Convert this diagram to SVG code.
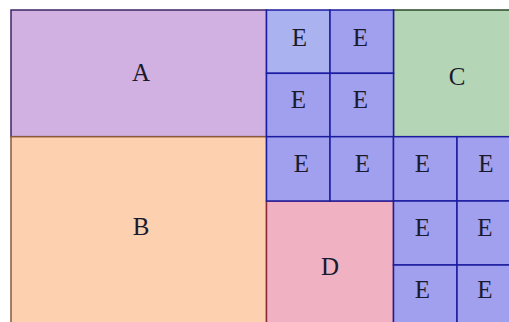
<svg xmlns="http://www.w3.org/2000/svg" width="509" height="322" viewBox="0 0 509 322">
<style>
rect{stroke-width:1.5}
text{font-family:"Liberation Serif","Times New Roman",serif;font-size:25px;fill:#1a1a2e;text-anchor:middle}
.a{fill:#d1b1e1;stroke:#3d2466}
.b{fill:#fdd0b0;stroke:#8a5a3a}
.c{fill:#b4d6b6;stroke:#2a4a2a}
.d{fill:#f0b2c2;stroke:#8a2a3a}
.e{fill:#a0a0ee;stroke:#1c1ca0}
.e1{fill:#aab2f0;stroke:#1c1ca0}
</style>
<rect width="509" height="322" fill="#ffffff" stroke="none"/>
<g id="A"><rect class="a" x="11" y="10" width="255.5" height="126.7"/><text x="141" y="80.5">A</text></g>
<g id="B"><rect class="b" x="11" y="136.7" width="255.5" height="200"/><text x="141" y="235">B</text></g>
<g id="C"><rect class="c" x="393.5" y="10" width="130" height="126.7"/><text x="457" y="84.5">C</text></g>
<g id="D"><rect class="d" x="266.5" y="201" width="127" height="140"/><text x="330" y="275">D</text></g>
<g id="E1"><rect class="e1" x="266.5" y="10" width="63.5" height="63.3"/><text x="299.5" y="46">E</text></g>
<g id="E2"><rect class="e" x="330" y="10" width="63.5" height="63.3"/><text x="360.5" y="46">E</text></g>
<g id="E3"><rect class="e" x="266.5" y="73.3" width="63.5" height="63.4"/><text x="298.5" y="108">E</text></g>
<g id="E4"><rect class="e" x="330" y="73.3" width="63.5" height="63.4"/><text x="360.5" y="108">E</text></g>
<g id="E5"><rect class="e" x="266.5" y="136.7" width="63.5" height="64.3"/><text x="301.5" y="171.5">E</text></g>
<g id="E6"><rect class="e" x="330" y="136.7" width="63.5" height="64.3"/><text x="362.5" y="171.5">E</text></g>
<g id="E7"><rect class="e" x="393.5" y="136.7" width="63.5" height="64.3"/><text x="422.5" y="171.5">E</text></g>
<g id="E8"><rect class="e" x="457" y="136.7" width="63.5" height="64.3"/><text x="486" y="171.5">E</text></g>
<g id="E9"><rect class="e" x="393.5" y="201" width="63.5" height="64"/><text x="422.5" y="236">E</text></g>
<g id="E10"><rect class="e" x="457" y="201" width="63.5" height="64"/><text x="485" y="236">E</text></g>
<g id="E11"><rect class="e" x="393.5" y="265" width="63.5" height="70"/><text x="422.5" y="298">E</text></g>
<g id="E12"><rect class="e" x="457" y="265" width="63.5" height="70"/><text x="485" y="298">E</text></g>
<g id="connectors"></g>
</svg>
